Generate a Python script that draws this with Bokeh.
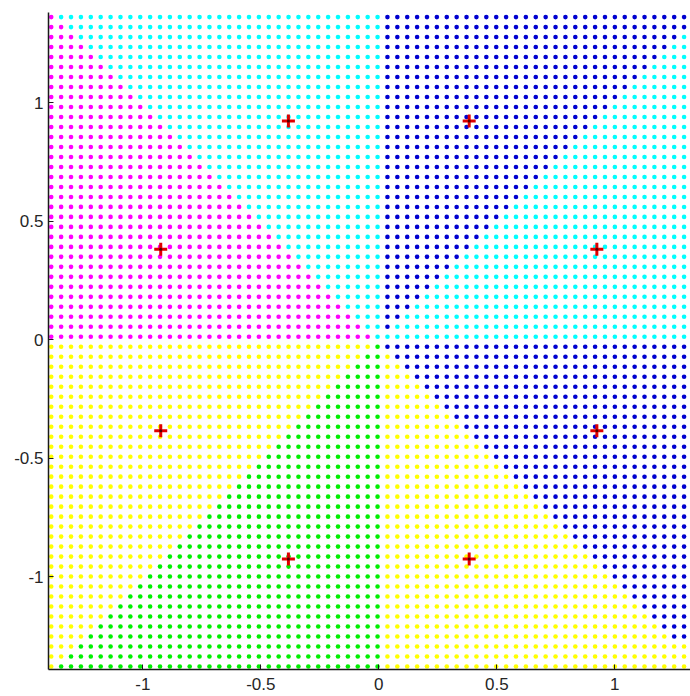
import numpy as np
from bokeh.plotting import figure
from bokeh.models import ColumnDataSource, FixedTicker, Range1d
from bokeh.embed import file_html
from bokeh.resources import INLINE

# ---- data ----
# sampling mesh of the decision map
grid_x_first = -1.388
grid_x_step = 0.0419
grid_x_count = 66
grid_y_first = -1.378
grid_y_last = 1.362
grid_y_count = 66

# decision regions: 8 angular sectors (start angle in degrees) and their class colours
sector_start_deg = [0, 45, 90, 135, 180, 225, 270, 315]
sector_colors = ["#00FFFF", "#0000D0", "#00FFFF", "#FF00FF",
                 "#FFFF00", "#00F000", "#FFFF00", "#0000D0"]

# training points (red crosses)
pts_x = [0.383, 0.924, 0.924, 0.383, -0.383, -0.924, -0.924, -0.383]
pts_y = [0.924, 0.383, -0.383, -0.924, -0.924, -0.383, 0.383, 0.924]

# axis ticks
x_ticks = [-1, -0.5, 0, 0.5, 1]
x_tick_labels = ["-1", "-0.5", "0", "0.5", "1"]
y_ticks = [-1, -0.5, 0, 0.5, 1]
y_tick_labels = ["-1", "-0.5", "0", "0.5", "1"]

# ---- build mesh and classes ----
gx = grid_x_first + grid_x_step * np.arange(grid_x_count)
gy = np.linspace(grid_y_first, grid_y_last, grid_y_count)
XX, YY = np.meshgrid(gx, gy)
xs = XX.ravel()
ys = YY.ravel()
ang = np.degrees(np.arctan2(ys, xs)) % 360.0
idx = np.searchsorted(np.array(sector_start_deg), ang, side="right") - 1
cols = [sector_colors[i] for i in idx]
src = ColumnDataSource(dict(x=xs, y=ys, c=cols))

p = figure(width=690, height=696, output_backend="svg", toolbar_location=None,
           x_range=Range1d(-1.3996, 1.3208), y_range=Range1d(-1.3907, 1.3814),
           min_border_left=48, min_border_right=0, min_border_top=12,
           min_border_bottom=27)
p.outline_line_color = None
p.xgrid.visible = False
p.ygrid.visible = False
p.background_fill_color = "white"
p.border_fill_color = "white"

p.scatter("x", "y", source=src, size=4.6, fill_color="c", line_color=None)

p.scatter(pts_x, pts_y, marker="cross", size=13, line_color="#E00000", line_width=3)
p.scatter(pts_x, pts_y, marker="circle", size=3, fill_color="#500000", line_color=None)

for ax, ticks, labels in ((p.xaxis, x_ticks, x_tick_labels), (p.yaxis, y_ticks, y_tick_labels)):
    ax.ticker = FixedTicker(ticks=ticks, minor_ticks=[])
    ax.major_label_overrides = {t: l for t, l in zip(ticks, labels)}
    ax.major_tick_in = 5
    ax.major_tick_out = 0
    ax.minor_tick_in = 0
    ax.minor_tick_out = 0
    ax.axis_line_color = "#1a1a1a"
    ax.axis_line_width = 1.5
    ax.major_tick_line_color = "#1a1a1a"
    ax.major_label_text_font = "Liberation Sans"
    ax.major_label_text_font_size = "17px"
    ax.major_label_text_color = "#262626"

p.xaxis.major_label_standoff = 8
p.yaxis.major_label_standoff = 5

open("out.html", "w").write(file_html(p, INLINE))
